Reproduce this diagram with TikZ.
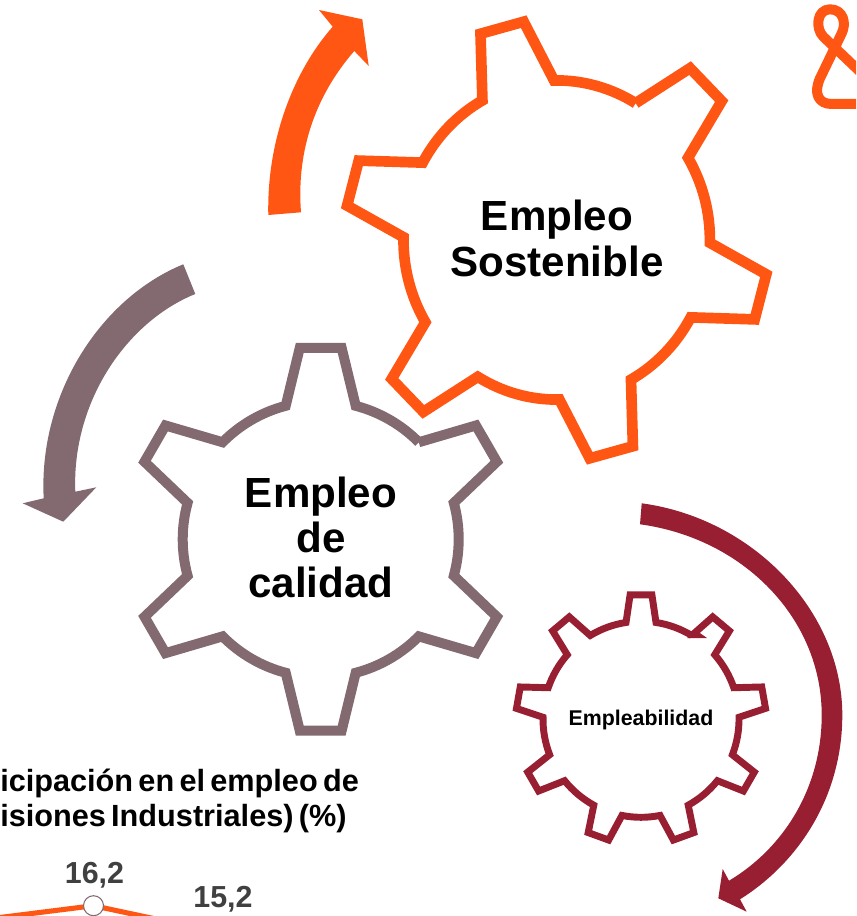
\documentclass[tikz,border=0pt]{standalone}
\usepackage{fontspec}
\setmainfont{Liberation Sans}
\newfontfamily\tightfont{Liberation Sans}[WordSpace=0.62]
\definecolor{naranja}{RGB}{255,86,20}
\definecolor{malva}{RGB}{130,106,112}
\definecolor{granate}{RGB}{152,30,50}
\definecolor{gristexto}{RGB}{64,64,64}
% centre x, centre y, first tooth angle, tooth angles, rb, rt, db, dt, style
\newcommand{\gearshape}[9]{%
  \begin{scope}[shift={(#1,#2)}, xscale=\gearxs]
    \draw[#9] (#3+#7:#5)
      \foreach \a in {#4} {
        -- (\a+#8:#6) -- (\a-#8:#6) -- (\a-#7:#5)
        arc[start angle={\a-#7}, delta angle={-(360/\gearn-2*#7)}, radius=#5]
      };
  \end{scope}}
\tikzset{
  geartrace/.style={line join=miter, miter limit=10, line cap=butt},
  bigtext/.style={font=\fontsize{31.6}{34}\selectfont\bfseries, align=center, inner sep=0pt, text=black},
  smalltext/.style={font=\fontsize{16}{18}\selectfont\bfseries, inner sep=0pt, text=black},
  titletext/.style={font=\tightfont\fontsize{23}{25.7}\selectfont\bfseries, align=left, inner sep=0pt, text=black},
  valuetext/.style={font=\fontsize{22.8}{25}\selectfont\bfseries, inner sep=0pt, text=gristexto},
}
\begin{document}
\begin{tikzpicture}[x=0.75pt,y=0.75pt]
\useasboundingbox (0,0) rectangle (856,-916);
\clip (0,0) rectangle (856,-916);

% logo fragment
\draw[naranja, line width=7.5pt, line join=round]
  (860,-71.7) -- (823.3,-36.7) .. controls (815,-28.3) and (816.7,-9.3) .. (830,-9.3)
  .. controls (843.3,-9.3) and (846.7,-23.3) .. (841.7,-33.3) -- (820,-78.3)
  .. controls (813.3,-93.3) and (818.3,-104) .. (831.7,-104) -- (860,-104);

% gears
\def\gearn{6}
\def\gearxs{0.96}
\gearshape{556.7}{-240}{45}{45,-15,-75,-135,-195,-255}{159.6}{221}{14}{6.05}{naranja, line width=8pt, geartrace}
\def\gearxs{1}
\gearshape{320.7}{-539.3}{30}{30,-30,-90,-150,-210,-270}{138}{192.5}{14.7}{6.25}{malva, line width=7.5pt, geartrace}
\def\gearn{9}
\gearshape{641}{-719.3}{50}{50,10,-30,-70,-110,-150,-190,-230,-270}{98}{125}{8.8}{5}{granate, line width=5.2pt, geartrace}
\fill[granate] (687,-638) -- (707,-638) -- (697,-631) -- cycle;

% curved arrows
\fill[naranja] (268.3,-215) .. controls (266.7,-143.3) and (291.7,-73.3) .. (332.7,-26.7)
  -- (319,-10) -- (362.3,-19.3) -- (368.7,-66) -- (354.3,-51)
  .. controls (311.7,-100) and (296.7,-156.7) .. (301,-212.3) -- cycle;
\fill[malva] (183.3,-264.3) .. controls (100,-298.3) and (38.3,-395) .. (43.7,-498.3)
  -- (22.7,-503.3) -- (63.3,-521.7) -- (96.3,-487.3) -- (75.3,-491.7)
  .. controls (71.7,-401.7) and (126.7,-321.7) .. (195.3,-294) -- cycle;
\fill[granate] (641.7,-503.3) .. controls (753.3,-518.3) and (842.3,-611.7) .. (842.3,-715)
  .. controls (842.3,-795) and (800,-861.7) .. (740,-899.3)
  -- (746.7,-911.7) -- (718.3,-898.3) -- (722.7,-869) -- (729,-880.7)
  .. controls (783.3,-848.3) and (821.7,-788.3) .. (821.7,-715)
  .. controls (821.7,-618.3) and (743.3,-538.3) .. (640,-524.3) -- cycle;

% gear labels
\node[bigtext] (sostenible) at (557,-238.6) {Empleo\\Sostenible};
\node[bigtext] (calidad) at (321,-537.5) {Empleo\\de\\calidad};
\node[smalltext] (empleabilidad) at (641,-719.7) {Empleabilidad};

% chart fragment
\coordinate (lineleft) at (-20,-920);
\coordinate (lineright) at (170,-922);
\coordinate (peak) at (93.5,-905.7);
\draw[naranja, line width=3.8pt] (lineleft) -- (peak) -- (lineright);
\node[circle, draw=malva, fill=white, line width=0.8pt, minimum size=15pt, inner sep=0pt] (marker) at (peak) {};
\node[titletext, anchor=west] (title) at (0,-801) {icipación en el empleo de\\isiones Industriales) (\%)};
\node[valuetext, anchor=base] (valueone) at (94.5,-883) {16,2};
\node[valuetext, anchor=base] (valuetwo) at (223,-907) {15,2};
\end{tikzpicture}
\end{document}
